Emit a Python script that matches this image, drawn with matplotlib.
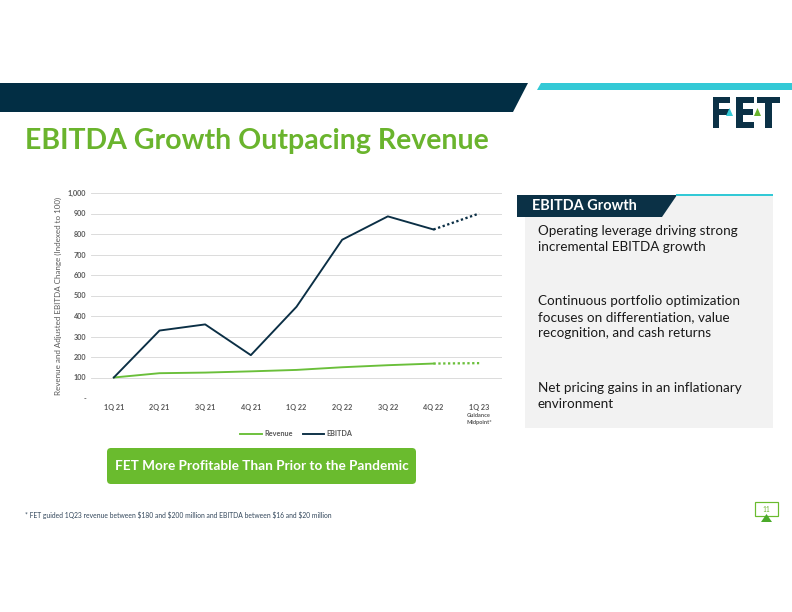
import matplotlib
matplotlib.use("Agg")
import matplotlib.pyplot as plt
from matplotlib.patches import Polygon, Rectangle, FancyBboxPatch, PathPatch
from matplotlib.lines import Line2D
from matplotlib.textpath import TextPath
from matplotlib.font_manager import FontProperties
from matplotlib.transforms import Affine2D

# ---------------- data ----------------
categories = ["1Q 21", "2Q 21", "3Q 21", "4Q 21", "1Q 22", "2Q 22", "3Q 22", "4Q 22", "1Q 23"]
revenue = [100, 121, 124, 130, 137, 150, 160, 168, 170]
ebitda = [100, 329, 359, 209, 445, 772, 886, 822, 900]
yticks = [0, 100, 200, 300, 400, 500, 600, 700, 800, 900, 1000]
ytick_labels = ["-", "100", "200", "300", "400", "500", "600", "700", "800", "900", "1,000"]
bullets = [
    ["Operating leverage driving strong", "incremental EBITDA growth"],
    ["Continuous portfolio optimization", "focuses on differentiation, value", "recognition, and cash returns"],
    ["Net pricing gains in an inflationary", "environment"],
]

NAVY = "#0b3146"
GREEN = "#6ab42d"
CYAN = "#33c9d6"
FONT = "Lato"

W, H = 792, 612
fig = plt.figure(figsize=(W / 72, H / 72), dpi=72)
bg = fig.add_axes([0, 0, 1, 1])
bg.set_xlim(0, W)
bg.set_ylim(H, 0)
bg.axis("off")

# top banner
bg.add_patch(Polygon([(0, 83), (528, 83), (513, 112), (0, 112)], closed=True, color="#022e44", lw=0))
bg.add_patch(Polygon([(541, 83), (792, 83), (792, 90), (537, 90)], closed=True, color=CYAN, lw=0))

# title
bg.text(25, 141, "EBITDA Growth Outpacing Revenue", color=GREEN, fontsize=28.5, fontweight="bold",
        family=FONT, va="center", ha="left")

# logo (text path squeezed into the logo box)
tp = TextPath((0, 0), "FET", size=40, prop=FontProperties(family="DejaVu Sans", weight="bold"))
ext = tp.get_extents()
lx0, lx1, ly0, ly1 = 713, 780, 97, 128
tr = (Affine2D().translate(-ext.x0, -ext.y0)
      .scale((lx1 - lx0) / ext.width, -(ly1 - ly0) / ext.height)
      .translate(lx0, ly1))
bg.add_patch(PathPatch(tr.transform_path(tp), color=NAVY, lw=0))
bg.add_patch(Polygon([(726, 116), (729.5, 108), (733, 116)], closed=True, color=CYAN, lw=0))
bg.add_patch(Polygon([(754, 116), (757.5, 108), (761, 116)], closed=True, color=GREEN, lw=0))

# right panel
bg.add_patch(Rectangle((525, 195), 248, 233, color="#f2f2f2", lw=0))
bg.add_patch(Polygon([(517, 195), (677, 195), (662, 217), (517, 217)], closed=True, color=NAVY, lw=0))
bg.add_patch(Rectangle((676, 194), 97, 2.2, color=CYAN, lw=0))
bg.text(532, 206.5, "EBITDA Growth", color="white", fontsize=14.5, fontweight="bold", family=FONT,
        va="center", ha="left")
starts = [231, 301, 388]
for start, lines in zip(starts, bullets):
    for i, ln in enumerate(lines):
        bg.text(538, start + i * 16, ln, color="#1a1a1a", fontsize=13.5, family=FONT,
                va="center", ha="left")

# green callout
bg.add_patch(FancyBboxPatch((107, 448), 309, 36, boxstyle="round,pad=0,rounding_size=4",
                            color="#6abb2e", lw=0))
bg.text(262, 466, "FET More Profitable Than Prior to the Pandemic", color="white", fontsize=13.6,
        fontweight="bold", family=FONT, va="center", ha="center")

# footnote
bg.text(25, 515, "* FET guided 1Q23 revenue between \\$180 and \\$200 million and EBITDA between \\$16 and \\$20 million",
        color="#33475b", fontsize=6.7, family=FONT, va="center", ha="left")

# page number
bg.add_patch(Rectangle((755, 502), 23, 14, fill=False, ec="#6abb2e", lw=1.2))
bg.text(766.5, 509.5, "11", color=GREEN, fontsize=6.5, family=FONT, va="center", ha="center")
bg.add_patch(Polygon([(761, 522), (766.5, 514), (772, 522)], closed=True, color="#4aaa2a", lw=0))

# ---------------- chart ----------------
x0, x1, y0, y1 = 91, 502, 193, 398
ax = fig.add_axes([x0 / W, 1 - y1 / H, (x1 - x0) / W, (y1 - y0) / H])
ax.set_xlim(-0.5, len(categories) - 0.5)
ax.set_ylim(0, 1000)
for s in ax.spines.values():
    s.set_visible(False)
ax.set_yticks(yticks)
ax.set_yticklabels(ytick_labels)
ax.tick_params(axis="y", length=0, pad=5, labelsize=7.3, labelcolor="#595959")
ax.tick_params(axis="x", length=0, pad=6, labelsize=7.3, labelcolor="#595959")
for lab in ax.get_yticklabels():
    lab.set_fontweight("bold")
    lab.set_family(FONT)
ax.yaxis.grid(True, color="#d9d9d9", lw=0.9)
ax.set_axisbelow(True)
xs = list(range(len(categories)))
ax.set_xticks(xs)
ax.set_xticklabels(categories)
for lab in ax.get_xticklabels():
    lab.set_fontweight("bold")
    lab.set_family(FONT)
ax.text(xs[-1], -75, "Guidance\nMidpoint*", ha="center", va="top", fontsize=5.6, color="#595959",
        fontweight="bold", family=FONT, linespacing=1.4)

ax.plot(xs[:-1], revenue[:-1], color="#6abf3a", lw=1.9)
ax.plot(xs[-2:], revenue[-2:], color="#6abf3a", lw=2.3, linestyle=(0, (1, 1.1)))
ax.plot(xs[:-1], ebitda[:-1], color="#0b2f45", lw=1.9)
ax.plot(xs[-2:], ebitda[-2:], color="#0b2f45", lw=2.3, linestyle=(0, (1, 1.1)))

ax.set_ylabel("Revenue and Adjusted EBITDA Change (Indexed to 100)", fontsize=8, color="#595959",
              family=FONT, labelpad=6)

handles = [Line2D([0], [0], color="#6abf3a", lw=1.9), Line2D([0], [0], color="#0b2f45", lw=1.9)]
leg = ax.legend(handles, ["Revenue", "EBITDA"], loc="upper center", bbox_to_anchor=(0.5, -0.125),
                ncol=2, frameon=False, fontsize=7.3, handlelength=3.0, columnspacing=1.3,
                handletextpad=0.3)
for t in leg.get_texts():
    t.set_color("#595959")
    t.set_fontweight("bold")
    t.set_family(FONT)

fig.savefig("out.png", dpi=72)
